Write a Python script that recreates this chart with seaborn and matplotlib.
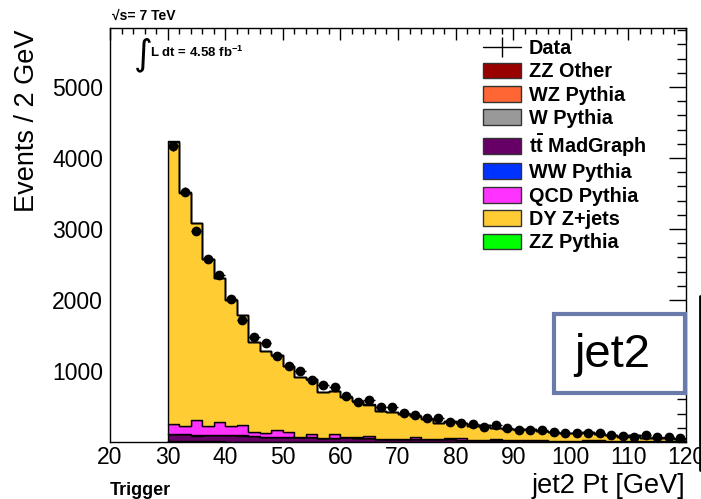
import numpy as np
import pandas as pd
import matplotlib
matplotlib.use("Agg")
import matplotlib.pyplot as plt
from matplotlib.patches import Patch, Rectangle
from matplotlib.lines import Line2D
import seaborn as sns

# ---- binning: 2 GeV bins from 30 to 120 GeV ----
bin_edges = np.arange(30, 122, 2)
bin_centers = bin_edges[:-1] + 1

# ---- observed events per bin ----
data_events = [4162, 3525, 2978, 2580, 2350, 2018, 1713, 1475, 1390, 1218,
               1077, 1002, 875, 800, 772, 653, 566, 585, 491, 491,
               403, 381, 332, 332, 285, 272, 248, 211, 239, 192,
               168, 168, 168, 145, 122, 122, 122, 122, 98, 84,
               75, 98, 75, 75, 60]

# ---- simulated samples (events per bin) ----
dy_zjets = [3963, 3277, 2780, 2353, 2032, 1778, 1556, 1271, 1161, 1050,
            927, 832, 778, 643, 609, 560, 501, 439, 386, 372,
            343, 298, 286, 233, 238, 221, 191, 207, 157, 149,
            153, 155, 131, 117, 110, 110, 115, 85, 81, 57,
            87, 49, 51, 42, 31]
qcd_pythia = [140, 112, 210, 126, 178, 117, 140, 51, 47, 98,
              61, 9, 37, 0, 56, 9, 19, 37, 0, 0,
              0, 28, 0, 0, 18, 15, 0, 0, 12, 0,
              0, 0, 0, 0, 0, 0, 15, 0, 0, 0,
              0, 0, 0, 0, 0]
ttbar_madgraph = [100, 100, 80, 88, 88, 96, 84, 80, 70, 70,
                  70, 62, 70, 54, 54, 62, 54, 48, 44, 44,
                  42, 40, 38, 35, 35, 32, 30, 28, 28, 25,
                  22, 20, 20, 18, 15, 12, 12, 20, 10, 10,
                  8, 8, 6, 15, 15]
zz_pythia = [15, 10, 7, 6, 5, 4, 4, 4, 3, 3,
             2, 2, 2, 2, 2, 2, 2, 2, 2, 2,
             1, 1, 1, 1, 1, 1, 1, 1, 1, 1,
             1, 1, 1, 1, 1, 1, 1, 1, 1, 1,
             1, 1, 1, 1, 1]
zz_other = [8, 6, 5, 4, 4, 3, 3, 3, 2, 2,
            2, 2, 2, 1, 1, 1, 1, 1, 1, 1,
            1, 1, 1, 1, 1, 1, 1, 1, 1, 1,
            1, 1, 1, 1, 1, 1, 1, 1, 1, 1,
            1, 1, 1, 1, 1]
wz_pythia = [6, 5, 4, 4, 3, 3, 3, 3, 3, 2,
             2, 2, 2, 2, 2, 2, 2, 1, 1, 1,
             1, 1, 1, 1, 1, 1, 1, 1, 1, 1,
             1, 1, 1, 1, 1, 1, 1, 1, 1, 1,
             1, 1, 1, 1, 1]
ww_pythia = [3, 3, 2, 2, 2, 2, 2, 1, 1, 1,
             1, 1, 1, 1, 1, 1, 1, 1, 1, 1,
             1, 1, 1, 1, 1, 1, 1, 1, 1, 1,
             0, 0, 0, 0, 0, 0, 0, 0, 0, 0,
             0, 0, 0, 0, 0]
w_pythia = [2, 2, 2, 1, 1, 1, 1, 1, 1, 1,
            1, 1, 1, 0, 0, 0, 0, 0, 0, 0,
            0, 0, 0, 0, 0, 0, 0, 0, 0, 0,
            0, 0, 0, 0, 0, 0, 0, 0, 0, 0,
            0, 0, 0, 0, 0]

# legend order (top to bottom) == stacking order (bottom to top)
sample_names = ["ZZ Other", "WZ Pythia", "W Pythia", "ttbar MadGraph",
                "WW Pythia", "QCD Pythia", "DY Z+jets", "ZZ Pythia"]
sample_values = [zz_other, wz_pythia, w_pythia, ttbar_madgraph,
                 ww_pythia, qcd_pythia, dy_zjets, zz_pythia]
sample_colors = ["#990000", "#ff6633", "#999999", "#660066",
                 "#0033ff", "#ff33ff", "#ffcc33", "#00ff00"]
legend_labels = ["ZZ Other", "WZ Pythia", "W Pythia",
                 r"$\mathbf{t\bar{t}}$ MadGraph",
                 "WW Pythia", "QCD Pythia", "DY Z+jets", "ZZ Pythia"]

sns.set_style("white")
plt.rcParams["font.family"] = ["Liberation Sans", "DejaVu Sans"]
plt.rcParams["mathtext.fontset"] = "custom"
plt.rcParams["mathtext.rm"] = "Liberation Sans"
plt.rcParams["mathtext.bf"] = "Liberation Sans:bold"
for key in ["text.color", "axes.labelcolor", "xtick.color", "ytick.color",
            "axes.edgecolor"]:
    plt.rcParams[key] = "black"

mc = pd.DataFrame({
    "pt": np.tile(bin_centers, len(sample_names)).astype(float),
    "events": np.concatenate([np.asarray(v, float) for v in sample_values]),
    "sample": np.repeat(sample_names, len(bin_centers)),
})

W, H = 701, 499
fig = plt.figure(figsize=(W / 100, H / 100), dpi=100)
ax = fig.add_axes([110 / W, 1 - 442 / H, (686 - 110) / W, (442 - 28) / H])

# seaborn stacks the last hue level at the bottom
sns.histplot(data=mc, x="pt", weights="events", hue="sample",
             hue_order=sample_names[::-1], multiple="stack",
             binwidth=2, binrange=(30, 120), element="step", fill=True,
             alpha=1, palette=dict(zip(sample_names, sample_colors)),
             edgecolor="black", linewidth=1.0, legend=False, ax=ax)

ax.errorbar(bin_centers, data_events, xerr=1, yerr=np.sqrt(data_events),
            fmt="o", color="black", ms=6, elinewidth=1.0, capsize=0, zorder=5)

ax.set_xlim(20, 120)
ax.set_ylim(0, 5830)
ax.set_xlabel("")
ax.set_ylabel("")
ax.set_xticks(np.arange(20, 121, 10))
ax.set_xticks(np.arange(20, 121, 2), minor=True)
ax.set_yticks([1000, 2000, 3000, 4000, 5000])
ax.set_yticks(np.arange(0, 5801, 200), minor=True)
ax.tick_params(axis="both", which="both", direction="in", top=True, right=True,
               width=1.0, color="black", labelcolor="black")
ax.tick_params(axis="x", which="major", length=8.5, labelsize=16.5, pad=3)
ax.tick_params(axis="x", which="minor", length=4.3)
ax.tick_params(axis="y", which="major", length=12.4, labelsize=16.5, pad=5)
ax.tick_params(axis="y", which="minor", length=6.2)
for sp in ax.spines.values():
    sp.set_color("black")
    sp.set_linewidth(1.0)

# axis titles
fig.text(685 / W, 1 - 493 / H, "jet2 Pt [GeV]", ha="right", va="baseline",
         fontsize=19.5)
fig.text(27 / W, 1 - 30 / H, "Events / 2 GeV", ha="center", va="top",
         rotation=90, fontsize=19.5)

# annotations
fig.text(112 / W, 1 - 20 / H, "√s= 7 TeV", ha="left", va="baseline",
         fontsize=10, fontweight="bold")
ax.text(0.042, 0.935, "∫", transform=ax.transAxes, ha="left", va="center",
        fontsize=26, family="DejaVu Sans")
ax.text(0.07, 0.94, r"L dt = 4.58 fb$^{\mathbf{-1}}$", transform=ax.transAxes,
        ha="left", va="center", fontsize=9.5, fontweight="bold")
fig.text(110 / W, 1 - 495 / H, "Trigger", ha="left", va="baseline",
         fontsize=13, fontweight="bold")

# legend
handles = [Line2D([], [], color="black", marker="|", markersize=14,
                  linewidth=1.0, markeredgewidth=1.0)]
handles += [Patch(facecolor=c, edgecolor="#333333", linewidth=1.0)
            for c in sample_colors]
fig.legend(handles, ["Data"] + legend_labels, loc="upper left",
           bbox_to_anchor=(483 / W, 1 - 39 / H), frameon=False,
           prop={"weight": "bold", "size": 14.3}, handlelength=1.92,
           handleheight=0.86, handletextpad=0.38, labelspacing=0.22,
           borderpad=0, borderaxespad=0)

# label box
fig.patches.append(Rectangle((554 / W, 1 - 393 / H), (685 - 554) / W,
                             (393 - 314) / H, transform=fig.transFigure,
                             facecolor="white", edgecolor="#6a7aaa",
                             linewidth=3, zorder=10))
fig.text(612 / W, 1 - 355 / H, "jet2", ha="center", va="center",
         fontsize=34, zorder=11)
fig.add_artist(Line2D([700 / W, 700 / W], [1 - 296 / H, 1 - 470 / H],
                      transform=fig.transFigure, color="black", linewidth=2))

fig.savefig("out.png", dpi=100)
